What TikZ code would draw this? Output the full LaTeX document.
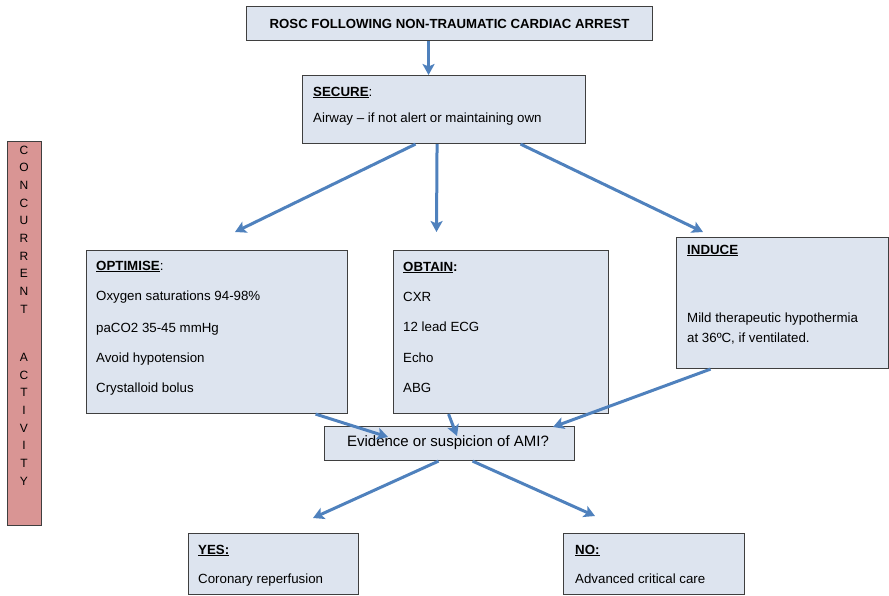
\documentclass[tikz,border=0pt]{standalone}
\usepackage{fontspec}
\setmainfont{Liberation Sans}
\usetikzlibrary{arrows.meta}
\definecolor{boxfill}{HTML}{DDE4EF}
\definecolor{boxline}{HTML}{3F3F3F}
\definecolor{barfill}{HTML}{D99594}
\definecolor{flow}{HTML}{4F81BD}
\tikzset{
  box/.style={draw=boxline, fill=boxfill, line width=1.1pt, rectangle,
    anchor=north west, inner sep=0pt},
  txt/.style={anchor=base west, inner sep=0pt, font=\fontsize{13.3}{16}\selectfont},
  flowarrow/.style={draw=flow, line width=3pt,
    -{Stealth[length=11pt,width=12pt,inset=2.5pt]}},
}
\newcommand{\hd}[1]{\textbf{\underline{#1}}}
\begin{document}
\begin{tikzpicture}[x=1pt,y=-1pt]
\useasboundingbox (0,0) rectangle (889,595);

% boxes
\node[box, minimum width=406pt, minimum height=34pt] (title) at (246,6) {};
\node[box, minimum width=283pt, minimum height=68pt] (secure) at (302,75) {};
\node[box, minimum width=261pt, minimum height=163pt] (opt) at (86,250) {};
\node[box, minimum width=215pt, minimum height=163pt] (obt) at (393,250) {};
\node[box, minimum width=212pt, minimum height=131pt] (ind) at (676,237) {};
\node[box, minimum width=250pt, minimum height=34pt] (ami) at (324,426) {};
\node[box, minimum width=170pt, minimum height=61pt] (yes) at (188,533) {};
\node[box, minimum width=181pt, minimum height=61pt] (no) at (563,533) {};
\node[box, fill=barfill, minimum width=34pt, minimum height=384pt] (bar) at (7,141) {};

% side label
\node[anchor=north, inner sep=0pt, align=center,
      font=\fontsize{12}{17.7}\selectfont] (barlabel) at (24,145.5)
  {C\\O\\N\\C\\U\\R\\R\\E\\N\\T\\[30.3pt]A\\C\\T\\I\\V\\I\\T\\Y};

% texts
\node[inner sep=0pt, font=\fontsize{13.2}{16}\selectfont\bfseries] (titletxt) at (title.center)
  {ROSC FOLLOWING NON-TRAUMATIC CARDIAC ARREST};

\node[txt] (s0) at (313,96) {\hd{SECURE}:};
\node[txt] (s1) at (313,122) {Airway – if not alert or maintaining own};

\node[txt] (p0) at (96,270) {\hd{OPTIMISE}:};
\node[txt] (p1) at (96,300) {Oxygen saturations 94-98\%};
\node[txt] (p2) at (96,332) {paCO2 35-45 mmHg};
\node[txt] (p3) at (96,362) {Avoid hypotension};
\node[txt] (p4) at (96,392) {Crystalloid bolus};

\node[txt] (b0) at (403,271) {\hd{OBTAIN}\textbf{:}};
\node[txt] (b1) at (403,301) {CXR};
\node[txt] (b2) at (403,331) {12 lead ECG};
\node[txt] (b3) at (403,362) {Echo};
\node[txt] (b4) at (403,392) {ABG};

\node[txt] (i0) at (687,254) {\hd{INDUCE}};
\node[txt] (i1) at (687,322) {Mild therapeutic hypothermia};
\node[txt] (i2) at (687,342) {at 36ºC, if ventilated.};

\node[inner sep=0pt, font=\fontsize{15}{18}\selectfont] (amitxt) at (448,443)
  {Evidence or suspicion of AMI?};

\node[txt] (y0) at (198,554) {\hd{YES:}};
\node[txt] (y1) at (198,583) {Coronary reperfusion};
\node[txt] (n0) at (575,554) {\hd{NO:}};
\node[txt] (n1) at (575,583) {Advanced critical care};

% arrow tips
\coordinate (toOpt) at (235,232);
\coordinate (toObt) at (436.5,232);
\coordinate (toInd) at (703,232);
\coordinate (fromOpt) at (388,437);
\coordinate (fromObt) at (457,436);
\coordinate (fromInd) at (553,427);
\coordinate (toYes) at (313,518);
\coordinate (toNo) at (595,516);

% connectors
\draw[flowarrow] ([xshift=-21pt]title.south) -- ([xshift=-15.5pt]secure.north);
\draw[flowarrow] ([xshift=-28.5pt]secure.south) -- (toOpt);
\draw[flowarrow] ([xshift=-7pt]secure.south) -- (toObt);
\draw[flowarrow] ([xshift=76.5pt]secure.south) -- (toInd);
\draw[flowarrow] ([xshift=98.5pt]opt.south) -- (fromOpt);
\draw[flowarrow] ([xshift=-52.5pt]obt.south) -- (fromObt);
\draw[flowarrow] ([xshift=-72pt]ind.south) -- (fromInd);
\draw[flowarrow] ([xshift=-11pt]ami.south) -- (toYes);
\draw[flowarrow] ([xshift=23pt]ami.south) -- (toNo);
\end{tikzpicture}
\end{document}
